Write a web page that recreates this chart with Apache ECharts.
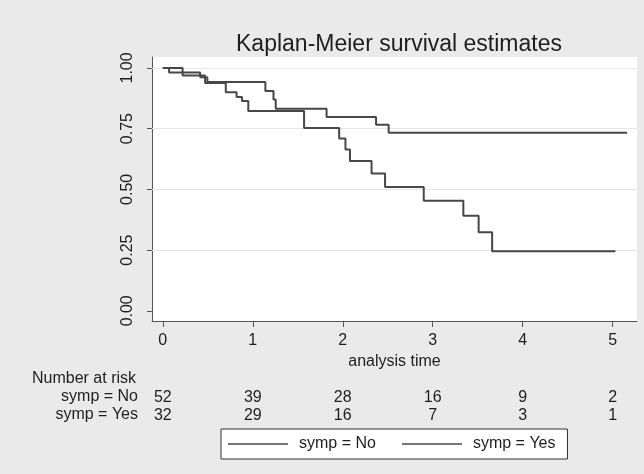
<!DOCTYPE html>
<html><head><meta charset="utf-8">
<script src="https://cdn.jsdelivr.net/npm/echarts@6/dist/echarts.min.js"></script>
<style>html,body{margin:0;padding:0;background:#eaeaea}#c{width:644px;height:474px}</style>
</head><body><div id="c"></div>
<script>
const chartTitle = 'Kaplan-Meier survival estimates';
const xTicks = [0, 1, 2, 3, 4, 5];
const yTicks = [0, 0.25, 0.5, 0.75, 1];
const groups = ['symp = No', 'symp = Yes'];
const timeNo = [0, 0.07, 0.415, 0.495, 1.14, 1.23, 1.255, 1.82, 2.37, 2.51, 5.16];
const survNo = [1, 0.981, 0.962, 0.942, 0.905, 0.87, 0.832, 0.798, 0.766, 0.733, 0.733];
const timeYes = [0, 0.22, 0.47, 0.70, 0.82, 0.88, 0.95, 1.57, 1.96, 2.03, 2.08, 2.32, 2.47, 2.90, 3.34, 3.51, 3.66, 5.03];
const survYes = [1, 0.969, 0.938, 0.90, 0.88, 0.864, 0.823, 0.753, 0.709, 0.664, 0.617, 0.565, 0.51, 0.453, 0.391, 0.323, 0.245, 0.245];
const riskNo = [52, 39, 28, 16, 9, 2];
const riskYes = [32, 29, 16, 7, 3, 1];
const riskTitle = 'Number at risk';
const xName = 'analysis time';

const FONT = "'Liberation Sans', Arial, sans-serif";
const AX = '#555555';
const LINE = '#474747';
const TXT = '#1e1e1e';
const X_MIN = -0.12, X_MAX = 5.27, Y_MIN = -0.042, Y_MAX = 1.045;

function pairs(t, v) { return t.map((x, i) => [x, v[i]]); }
function riskAxis(arr, margin) {
  return {
    type: 'value', gridIndex: 0, position: 'bottom', min: X_MIN, max: X_MAX,
    axisLine: { show: false }, axisTick: { show: false }, splitLine: { show: false },
    axisLabel: { customValues: xTicks, margin: margin, fontSize: 16, fontFamily: FONT, color: TXT,
      formatter: v => String(arr[xTicks.indexOf(Math.round(v))]) }
  };
}

const chart = echarts.init(document.getElementById('c'), null, { renderer: 'canvas' });
chart.setOption({
  backgroundColor: '#eaeaea',
  animation: false,
  title: { text: chartTitle, left: 394, textAlign: 'center', top: 28,
    textStyle: { fontSize: 23, fontWeight: 'normal', fontFamily: FONT, color: TXT } },
  grid: { left: 152, right: 7, top: 57, bottom: 153, show: true, backgroundColor: '#ffffff', borderWidth: 0 },
  xAxis: [
    { type: 'value', min: X_MIN, max: X_MAX,
      axisLine: { show: true, onZero: false, lineStyle: { color: AX, width: 1 } },
      axisTick: { show: true, customValues: xTicks, length: 6, lineStyle: { color: AX } },
      axisLabel: { customValues: xTicks, margin: 12, fontSize: 16, fontFamily: FONT, color: TXT },
      splitLine: { show: false },
      name: xName, nameLocation: 'middle', nameGap: 28,
      nameTextStyle: { fontSize: 16, fontFamily: FONT, color: TXT } },
    riskAxis(riskNo, 69),
    riskAxis(riskYes, 87)
  ],
  yAxis: { type: 'value', min: Y_MIN, max: Y_MAX,
    axisLine: { show: true, onZero: false, lineStyle: { color: AX, width: 1 } },
    axisTick: { show: true, customValues: yTicks, length: 5, lineStyle: { color: AX } },
    axisLabel: { customValues: yTicks, rotate: 90, margin: 16, fontSize: 16, fontFamily: FONT, color: TXT,
      formatter: v => v.toFixed(2) },
    splitLine: { show: false } },
  legend: { data: groups, left: 221, top: 429, orient: 'horizontal',
    icon: 'rect', itemWidth: 60, itemHeight: 1.6, itemGap: 26,
    padding: [7, 12, 7, 7], borderColor: '#333', borderWidth: 1, backgroundColor: '#ffffff',
    textStyle: { fontSize: 16, fontFamily: FONT, color: TXT, padding: [0, 0, 0, 6] } },
  graphic: [
    { type: 'text', left: 32, top: 371, style: { text: riskTitle, font: '16px ' + FONT, fill: TXT } },
    { type: 'text', right: 644 - 138, top: 389, style: { text: groups[0], font: '16px ' + FONT, fill: TXT } },
    { type: 'text', right: 644 - 138, top: 407, style: { text: groups[1], font: '16px ' + FONT, fill: TXT } }
  ],
  series: [
    { type: 'line', name: '_grid', data: [], silent: true, z: 1,
      markLine: { silent: true, z: 1, symbol: 'none', label: { show: false },
        lineStyle: { color: '#e6e6e6', width: 1, type: 'solid' },
        data: yTicks.filter(v => v > 0).map(v => ({ yAxis: v })) } },
    { type: 'line', name: groups[0], step: 'end', symbol: 'none', z: 6,
      data: pairs(timeNo, survNo), color: LINE, lineStyle: { color: LINE, width: 2 } },
    { type: 'line', name: groups[1], step: 'end', symbol: 'none', z: 6,
      data: pairs(timeYes, survYes), color: LINE, lineStyle: { color: LINE, width: 2 } }
  ]
});
</script>
</body></html>
